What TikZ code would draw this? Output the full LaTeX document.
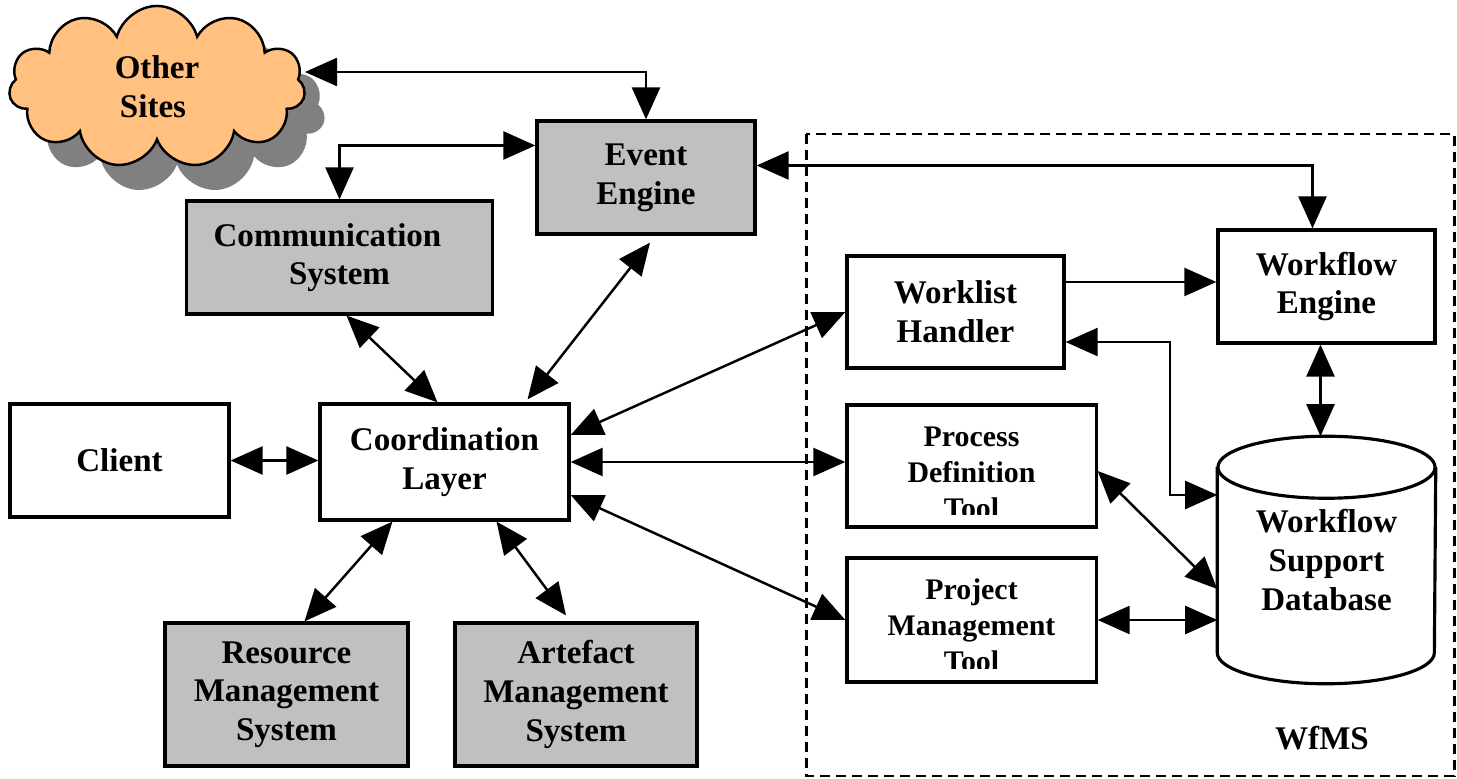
\documentclass[tikz,border=0pt]{standalone}
\usepackage{fontspec}
\setmainfont{Liberation Serif}
\usetikzlibrary{arrows.meta,shapes.symbols,shadows}
\definecolor{boxgrey}{HTML}{C0C0C0}
\definecolor{cloudorange}{HTML}{FFC080}
\tikzset{
  unit/.style={draw, line width=0.9pt, fill=white, inner sep=0pt, align=center,
    font=\bfseries\fontsize{9.4}{11}\selectfont},
  grey unit/.style={unit, fill=boxgrey},
  tooltext/.style={inner sep=0pt, align=center, font=\bfseries\fontsize{8.5}{10.2}\selectfont},
  link/.style={line width=0.7pt, {Triangle[length=0.32cm,width=0.28cm]}-{Triangle[length=0.32cm,width=0.28cm]}},
  feed/.style={line width=0.7pt, -{Triangle[length=0.32cm,width=0.28cm]}}
}
\begin{document}
\begin{tikzpicture}[x=0.01cm,y=-0.01cm]
\useasboundingbox (0,0) rectangle (1457,779);

\draw[line width=0.85pt, dash pattern=on 2.85pt off 1.7pt] (806,134) rectangle (1454,776);
\node[font=\bfseries\fontsize{9.4}{11}\selectfont] (wfms) at (1322,738) {WfMS};

\node[cloud, cloud puffs=11, aspect=1.8, draw, line width=0.7pt, fill=cloudorange,
  drop shadow={shadow xshift=0.2cm, shadow yshift=-0.25cm, fill=black!50, opacity=1},
  minimum width=2.96cm, minimum height=1.62cm, inner sep=0pt, align=center,
  font=\bfseries\fontsize{9.4}{11}\selectfont] (sites) at (157,87) {Other\\Sites\hspace*{0.08cm}};

\node[grey unit, minimum width=2.18cm, minimum height=1.13cm] (ev) at (646,177.5) {Event\\Engine};
\node[grey unit, minimum width=3.05cm, minimum height=1.13cm] (comm) at (339.5,257.5) {Communication\hspace*{0.24cm}\\System};
\node[unit, minimum width=2.17cm, minimum height=1.12cm] (wlh) at (955.5,312) {Worklist\\Handler};
\node[unit, minimum width=2.17cm, minimum height=1.13cm] (wfe) at (1326.5,286.5) {Workflow\\Engine};
\node[unit, minimum width=2.19cm, minimum height=1.13cm] (client) at (119.5,460.5) {Client};
\node[unit, minimum width=2.49cm, minimum height=1.16cm] (coord) at (444.5,462) {Coordination\\Layer};
\node[unit, minimum width=2.49cm, minimum height=1.22cm] (pdt) at (971.5,466) {};
\node[unit, minimum width=2.49cm, minimum height=1.24cm] (pmt) at (971.5,620) {};
\node[grey unit, minimum width=2.43cm, minimum height=1.43cm] (rms) at (286.5,694.5) {Resource\\Management\\System};
\node[grey unit, minimum width=2.42cm, minimum height=1.43cm] (ams) at (576,694.5) {Artefact\\Management\\System};

\begin{scope}
\clip (pdt.north west) rectangle ([yshift=0.14cm]pdt.south east);
\node[tooltext] (pdttext) at ([yshift=-0.07cm]pdt.center) {Process\\Definition\\Tool};
\end{scope}
\begin{scope}
\clip (pmt.north west) rectangle ([yshift=0.15cm]pmt.south east);
\node[tooltext] (pmttext) at ([yshift=-0.05cm]pmt.center) {Project\\Management\\Tool};
\end{scope}

\node[inner sep=0pt, minimum width=2.17cm, minimum height=2.46cm, align=center,
  font=\bfseries\fontsize{9.4}{11}\selectfont] (wsd) at (1326.5,560) {Workflow\\Support\\Database};
\draw[line width=0.9pt] ([yshift=-0.31cm]wsd.north west) -- ([yshift=0.31cm]wsd.south west)
  arc[start angle=180, end angle=360, x radius=1.085cm, y radius=0.31cm]
  -- ([yshift=-0.31cm]wsd.north east);
\draw[line width=0.9pt] ([yshift=-0.31cm]wsd.north) ellipse[x radius=1.085cm, y radius=0.31cm];

\coordinate (sitesR) at ([yshift=0.15cm]sites.east);
\coordinate (dbin) at ([yshift=0.65cm]wsd.west);

\draw[link] (sitesR) -| (ev.north);
\draw[link] (comm.north) |- ([yshift=0.32cm]ev.west);
\draw[link] ([yshift=0.12cm]ev.east) -| ([xshift=-0.14cm]wfe.north);
\draw[link] ([xshift=0.07cm]comm.south) -- ([xshift=-0.07cm]coord.north);
\draw[link] ([xshift=0.04cm,yshift=-0.07cm]ev.south) -- ([xshift=0.83cm,yshift=0.03cm]coord.north);
\draw[link] (client.east) -- (client.east -| coord.west);
\draw[link] ([yshift=0.27cm]coord.east) -- (wlh.west);
\draw[link] (coord.east) -- (coord.east -| pdt.west);
\draw[link] ([yshift=-0.33cm]coord.east) -- (pmt.west);
\draw[link] ([xshift=-0.52cm]coord.south) -- ([xshift=0.18cm]rms.north);
\draw[link] ([xshift=0.52cm]coord.south) -- ([xshift=-0.1cm,yshift=0.06cm]ams.north);
\draw[feed] ([yshift=0.3cm]wlh.east) -- ([yshift=0.3cm]wlh.east -| wfe.west);
\draw[link] ([yshift=-0.3cm]wlh.east) -| ([xshift=-0.47cm]dbin) -- (dbin);
\draw[link] ([xshift=-0.06cm]wfe.south) -- ([xshift=-0.06cm]wsd.north);
\draw[link] ([yshift=-0.05cm]pdt.east) -- ([yshift=-0.29cm]wsd.west);
\draw[link] (pmt.east) -- (pmt.east -| wsd.west);
\end{tikzpicture}
\end{document}
